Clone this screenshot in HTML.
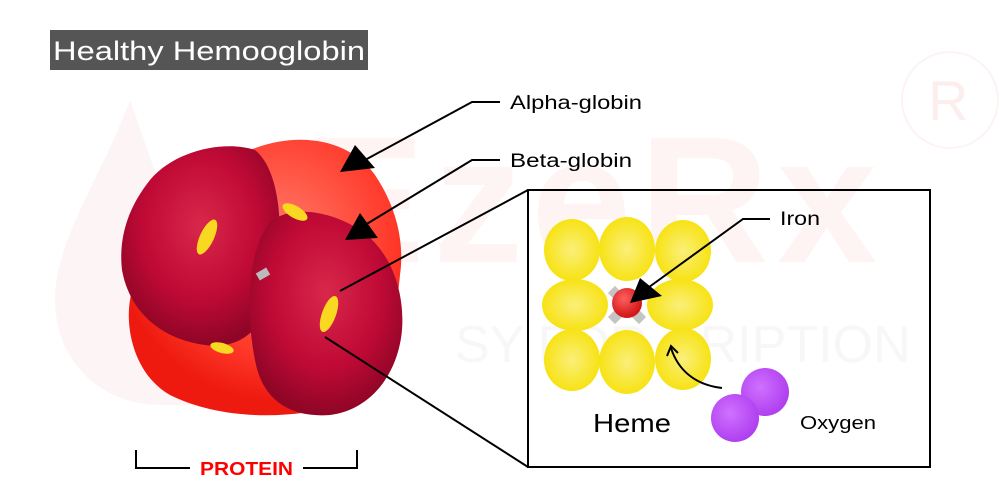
<!DOCTYPE html>
<html><head><meta charset="utf-8"><style>
html,body{margin:0;padding:0;background:#fff;}
svg{display:block;font-family:"Liberation Sans",sans-serif;}
</style></head><body>
<svg width="1000" height="500" viewBox="0 0 1000 500" xmlns="http://www.w3.org/2000/svg">
<defs>
<radialGradient id="dr" cx="0.5" cy="0.4" r="0.6"><stop offset="0" stop-color="#d8284a"/><stop offset="0.6" stop-color="#c00a36"/><stop offset="1" stop-color="#8e0526"/></radialGradient>
<radialGradient id="or" cx="0.55" cy="0.35" r="0.6"><stop offset="0" stop-color="#ff7a6a"/><stop offset="0.7" stop-color="#ff3a2a"/><stop offset="1" stop-color="#ee1a10"/></radialGradient>
<radialGradient id="yl" cx="0.5" cy="0.5" r="0.6"><stop offset="0" stop-color="#fbef7a"/><stop offset="1" stop-color="#f6e000"/></radialGradient>
<radialGradient id="fe" cx="0.4" cy="0.35" r="0.6"><stop offset="0" stop-color="#ff6060"/><stop offset="1" stop-color="#d41818"/></radialGradient>
<radialGradient id="pu" cx="0.4" cy="0.4" r="0.6"><stop offset="0" stop-color="#d070ff"/><stop offset="1" stop-color="#b040f0"/></radialGradient>
</defs>
<!-- watermark -->
<path d="M130 100 C100 180 55 240 55 300 C55 360 100 405 160 405 L200 405 L200 300 Z" fill="#fdf5f5"/>
<text x="305" y="262" font-size="180" font-weight="bold" fill="#fef4f4" letter-spacing="8">EzeRx</text>
<text x="455" y="362" font-size="52" fill="#f7f7f7">SY FOR      CRIPTION</text>
<circle cx="950" cy="100" r="48" fill="none" stroke="#fdf3f3" stroke-width="2"/>
<text x="928" y="120" font-size="56" fill="#fdeeee">R</text>
<!-- title -->
<rect x="50" y="30" width="318" height="40" fill="#555"/>
<text x="53" y="60" font-size="27" fill="#fff" textLength="312" lengthAdjust="spacingAndGlyphs">Healthy Hemooglobin</text>
<!-- protein -->
<path d="M250 150 C300 130 350 140 375 175 C395 205 405 240 400 275 C395 330 380 380 340 405 C290 420 220 420 170 395 C135 375 125 330 130 300 C140 240 180 170 250 150 Z" fill="url(#or)"/>
<path d="M150 180 C175 150 225 140 255 150 C280 170 285 230 275 285 C265 330 240 350 205 345 C165 340 130 315 122 270 C118 235 130 205 150 180 Z" fill="url(#dr)"/>
<path d="M270 222 C290 205 330 210 360 230 C390 250 405 290 402 330 C398 375 370 410 330 415 C290 418 262 400 255 360 C245 310 248 250 270 222 Z" fill="url(#dr)"/>
<rect x="257" y="270" width="12" height="8" fill="#bbb" transform="rotate(-30 263 274)"/>
<ellipse cx="207" cy="237" rx="7" ry="19" fill="#f8d820" transform="rotate(25 207 237)"/>
<ellipse cx="329" cy="314" rx="7" ry="19" fill="#f8d820" transform="rotate(20 329 314)"/>
<ellipse cx="295" cy="212" rx="14" ry="6" fill="#f8d820" transform="rotate(30 295 212)"/>
<ellipse cx="222" cy="348" rx="12" ry="5" fill="#f8d820" transform="rotate(15 222 348)"/>
<!-- arrows -->
<g stroke="#000" stroke-width="2" fill="none">
<polyline points="500,102 472,102 365,160"/>
<polyline points="500,160 472,160 365,225"/>
<line x1="340" y1="291" x2="528" y2="190"/>
<line x1="325" y1="337" x2="528" y2="467"/>
<rect x="528" y="190" width="402" height="277"/>
<polyline points="136,450 136,468 190,468"/>
<polyline points="303,468 357,468 357,450"/>
</g>
<polygon points="340,172 355,145 375,168" fill="#000"/>
<polygon points="345,240 360,213 378,238" fill="#000"/>
<text x="510" y="109" font-size="19" fill="#000" textLength="132" lengthAdjust="spacingAndGlyphs">Alpha-globin</text>
<text x="510" y="167" font-size="19" fill="#000" textLength="122" lengthAdjust="spacingAndGlyphs">Beta-globin</text>
<text x="200" y="475" font-size="18" font-weight="bold" fill="#f00" textLength="93" lengthAdjust="spacingAndGlyphs">PROTEIN</text>
<!-- heme -->
<polygon points="605,300 649,300 649,310 605,310" fill="#c4c4c4" transform="rotate(45 627 305)"/>
<polygon points="605,300 649,300 649,310 605,310" fill="#c4c4c4" transform="rotate(-45 627 305)"/>
<g fill="url(#yl)">
<ellipse cx="572" cy="250" rx="28" ry="31"/>
<ellipse cx="627" cy="249" rx="28" ry="32"/>
<ellipse cx="683" cy="251" rx="28" ry="31"/>
<ellipse cx="575" cy="305" rx="33" ry="26"/>
<ellipse cx="680" cy="305" rx="33" ry="26"/>
<ellipse cx="572" cy="360" rx="28" ry="31"/>
<ellipse cx="627" cy="362" rx="28" ry="32"/>
<ellipse cx="683" cy="359" rx="28" ry="31"/>
</g>
<circle cx="627" cy="303" r="15" fill="url(#fe)"/>
<polyline points="770,219 743,219 645,290" stroke="#000" stroke-width="2" fill="none"/>
<polygon points="630,303 640,278 662,296" fill="#000"/>
<path d="M722 388 C695 385 678 370 671 348" stroke="#000" stroke-width="2" fill="none"/>
<polyline points="667,356 671,346 678,353" stroke="#000" stroke-width="2" fill="none"/>
<text x="780" y="225" font-size="19" fill="#000" textLength="40" lengthAdjust="spacingAndGlyphs">Iron</text>
<circle cx="765" cy="392" r="24" fill="url(#pu)"/>
<circle cx="735" cy="418" r="24" fill="url(#pu)"/>
<text x="593" y="432" font-size="26" fill="#000" textLength="78" lengthAdjust="spacingAndGlyphs">Heme</text>
<text x="800" y="429" font-size="18" fill="#000" textLength="76" lengthAdjust="spacingAndGlyphs">Oxygen</text>
</svg>
</body></html>
